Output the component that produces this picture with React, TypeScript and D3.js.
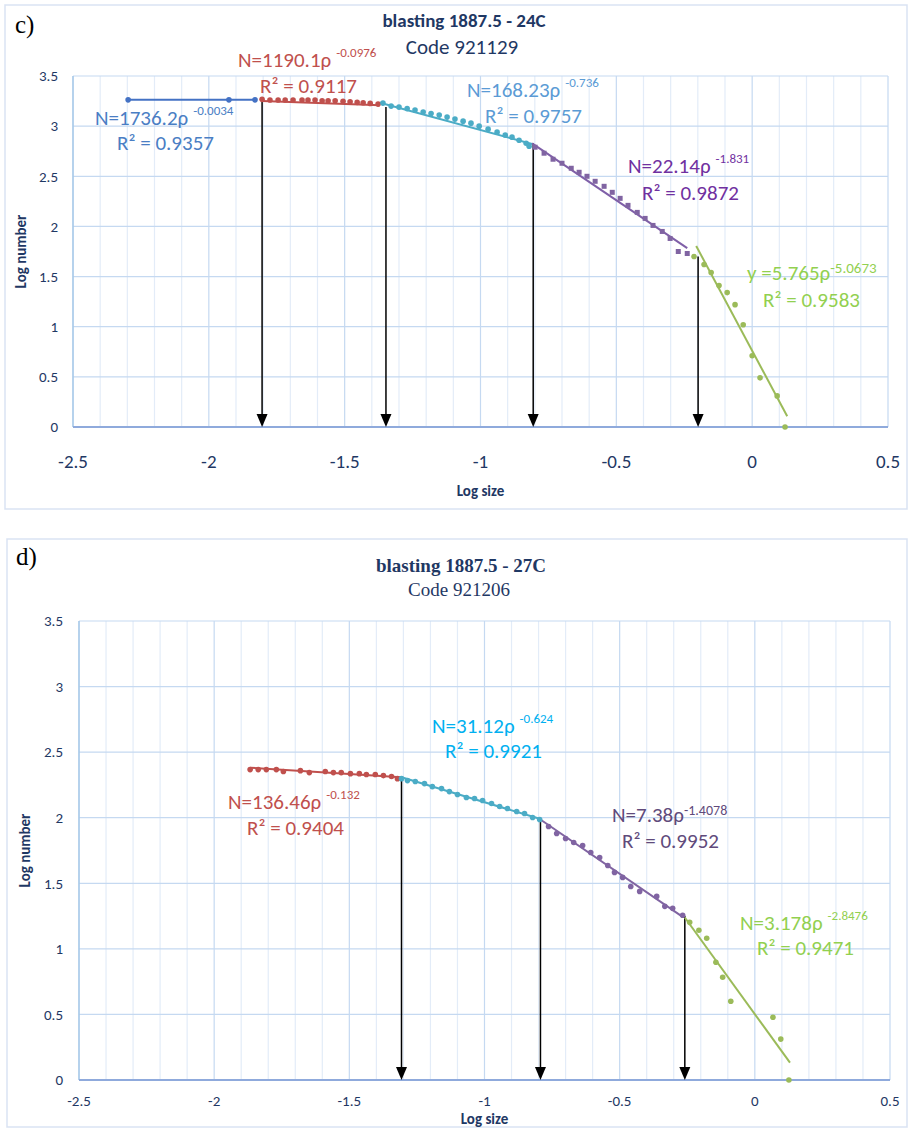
import React from "react";
import * as d3 from "d3";

// ---- shared axis ticks
const xTicks = [-2.5, -2, -1.5, -1, -0.5, 0, 0.5];
const yTicks = [0, 0.5, 1, 1.5, 2, 2.5, 3, 3.5];

// ---- chart c) blasting 1887.5 - 24C, points [log size, log number]
const cBlue = [[-2.297, 3.262], [-1.926, 3.262], [-1.83, 3.262]];
const cRed = [
  [-1.804, 3.267], [-1.775, 3.26], [-1.745, 3.26], [-1.719, 3.26], [-1.69, 3.26], [-1.657, 3.26],
  [-1.635, 3.26], [-1.609, 3.26], [-1.583, 3.253], [-1.561, 3.253], [-1.535, 3.253], [-1.506, 3.247],
  [-1.48, 3.243], [-1.454, 3.237], [-1.432, 3.233], [-1.406, 3.227], [-1.377, 3.22],
];
const cCyan = [
  [-1.359, 3.23], [-1.329, 3.2], [-1.3, 3.19], [-1.27, 3.175], [-1.241, 3.16], [-1.211, 3.14],
  [-1.182, 3.125], [-1.152, 3.11], [-1.123, 3.09], [-1.094, 3.07], [-1.064, 3.05], [-1.035, 3.03],
  [-1.005, 3.0], [-0.972, 2.97], [-0.939, 2.94], [-0.909, 2.91], [-0.884, 2.89], [-0.858, 2.86],
  [-0.832, 2.83], [-0.821, 2.8],
];
const cPurple = [
  [-0.799, 2.79], [-0.766, 2.73], [-0.733, 2.67], [-0.7, 2.63], [-0.666, 2.58], [-0.637, 2.54],
  [-0.608, 2.5], [-0.578, 2.45], [-0.545, 2.4], [-0.515, 2.34], [-0.486, 2.28], [-0.457, 2.21],
  [-0.423, 2.14], [-0.394, 2.08], [-0.365, 2.01], [-0.331, 1.95], [-0.302, 1.88], [-0.272, 1.75],
  [-0.239, 1.73],
];
const cGreen = [
  [-0.214, 1.7], [-0.177, 1.62], [-0.151, 1.54], [-0.122, 1.41], [-0.092, 1.34], [-0.063, 1.22],
  [-0.033, 1.02], [0.0, 0.71], [0.029, 0.49], [0.092, 0.31], [0.121, 0.0],
];
// fitted lines, [start, end]
const cRedFit = [[-1.804, 3.251], [-1.37, 3.209]];
const cCyanFit = [[-1.37, 3.234], [-0.81, 2.822]];
const cPurpleFit = [[-0.81, 2.828], [-0.239, 1.783]];
const cGreenFit = [[-0.206, 1.805], [0.129, 0.107]];
const cArrows = [[-1.804, 3.26], [-1.348, 3.19], [-0.806, 2.83], [-0.199, 1.7]];

// ---- chart d) blasting 1887.5 - 27C
const dRed = [
  [-1.867, 2.367], [-1.837, 2.367], [-1.807, 2.367], [-1.77, 2.367], [-1.744, 2.352], [-1.681, 2.359],
  [-1.648, 2.344], [-1.589, 2.352], [-1.559, 2.344], [-1.53, 2.344], [-1.496, 2.336], [-1.463, 2.336],
  [-1.437, 2.329], [-1.404, 2.329], [-1.374, 2.321], [-1.344, 2.314], [-1.322, 2.298],
];
const dCyan = [
  [-1.307, 2.298], [-1.285, 2.283], [-1.256, 2.276], [-1.222, 2.26], [-1.193, 2.237], [-1.159, 2.222],
  [-1.13, 2.199], [-1.1, 2.177], [-1.067, 2.154], [-1.037, 2.146], [-1.007, 2.131], [-0.974, 2.108],
  [-0.944, 2.085], [-0.915, 2.07], [-0.881, 2.047], [-0.852, 2.032], [-0.822, 2.002], [-0.796, 1.986],
];
const dPurple = [
  [-0.763, 1.933], [-0.733, 1.88], [-0.7, 1.842], [-0.67, 1.811], [-0.637, 1.788], [-0.607, 1.735],
  [-0.574, 1.697], [-0.544, 1.636], [-0.519, 1.583], [-0.489, 1.545], [-0.459, 1.476], [-0.426, 1.438],
  [-0.363, 1.4], [-0.333, 1.324], [-0.304, 1.309], [-0.267, 1.256],
];
const dGreen = [
  [-0.241, 1.202], [-0.207, 1.142], [-0.178, 1.081], [-0.144, 0.898], [-0.119, 0.784], [-0.089, 0.601],
  [0.067, 0.479], [0.096, 0.312], [0.126, 0.0],
];
const dRedFit = [[-1.867, 2.381], [-1.31, 2.308]];
const dCyanFit = [[-1.31, 2.31], [-0.796, 1.992]];
const dPurpleFit = [[-0.796, 1.99], [-0.267, 1.244]];
const dGreenFit = [[-0.259, 1.239], [0.13, 0.132]];
const dArrows = [[-1.307, 2.3], [-0.793, 1.99], [-0.259, 1.25]];

const NAVY = "#1F3864";
const SANS = "Carlito, Lato, 'Open Sans', sans-serif";
const SERIF = "'Liberation Serif', 'DejaVu Serif', serif";

function Label({ x, y, main, sup, r2, r2x, r2y, color, size = 21, supSize = 13, supDy = -10, gap = 5 }) {
  return (
    <g fill={color} fontFamily={SANS}>
      <text x={x} y={y} fontSize={size}>
        {main}
        <tspan fontSize={supSize} dx={gap} dy={supDy}>{sup}</tspan>
      </text>
      <text x={r2x} y={r2y} fontSize={size}>{r2}</text>
    </g>
  );
}

function Plot({ xr, yr, frame, xTickSize, yTickSize, xTickY, xTitleY, yTickRight, yTitleX, series, fits, arrows }) {
  const x = d3.scaleLinear().domain([-2.5, 0.5]).range(xr);
  const y = d3.scaleLinear().domain([0, 3.5]).range(yr);
  const minor = d3.range(-25, 6).map((i) => i / 10);
  const ln = d3.line().x((d) => x(d[0])).y((d) => y(d[1]));
  return (
    <g>
      <rect x={frame[0]} y={frame[1]} width={frame[2] - frame[0]} height={frame[3] - frame[1]}
        fill="#fff" stroke="#DAE3F3" strokeWidth={1.5} />
      {minor.map((v) => (
        <line key={"m" + v} x1={x(v)} x2={x(v)} y1={y(0)} y2={y(3.5)}
          stroke={Math.abs(v * 2 - Math.round(v * 2)) < 1e-6 ? "#C5D9F1" : "#E3ECF8"} strokeWidth={1.2} />
      ))}
      {yTicks.map((v) => (
        <line key={"h" + v} x1={x(-2.5)} x2={x(0.5)} y1={y(v)} y2={y(v)} stroke="#C5D9F1" strokeWidth={1.2} />
      ))}
      <line x1={x(-2.5)} x2={x(-2.5)} y1={y(0)} y2={y(3.5)} stroke="#9DC3E6" strokeWidth={1.2} />
      <line x1={x(-2.5)} x2={x(0.5)} y1={y(0)} y2={y(0)} stroke="#8FAADC" strokeWidth={2} />
      {yTicks.map((v) => (
        <text key={"yt" + v} x={yTickRight} y={y(v)} dy="0.35em" textAnchor="end" fontSize={yTickSize}
          fontFamily={SANS} fill={NAVY}>{v}</text>
      ))}
      {xTicks.map((v) => (
        <text key={"xt" + v} x={x(v)} y={xTickY} textAnchor="middle" fontSize={xTickSize}
          fontFamily={SANS} fill={NAVY}>{v}</text>
      ))}
      <text x={x(-1)} y={xTitleY} textAnchor="middle" fontSize={15} fontWeight="bold" fontFamily={SANS}
        fill={NAVY}>Log size</text>
      <text transform={`translate(${yTitleX},${(yr[0] + yr[1]) / 2}) rotate(-90)`} textAnchor="middle"
        fontSize={15} fontWeight="bold" fontFamily={SANS} fill={NAVY}>Log number</text>

      {arrows.map((a, i) => (
        <g key={"a" + i}>
          <line x1={x(a[0])} x2={x(a[0])} y1={y(a[1])} y2={y(0) - 12} stroke="#000" strokeWidth={1.5} />
          <path d={`M${x(a[0]) - 5.5},${y(0) - 13}L${x(a[0]) + 5.5},${y(0) - 13}L${x(a[0])},${y(0)}Z`} fill="#000" />
        </g>
      ))}
      {fits.map((f, i) => (
        <path key={"f" + i} d={ln(f.data)} fill="none" stroke={f.color} strokeWidth={2} />
      ))}
      {series.map((s, i) => (
        <g key={"s" + i} fill={s.color}>
          {s.line && <path d={ln(s.data)} fill="none" stroke={s.color} strokeWidth={2} />}
          {s.data.map((p, j) =>
            s.square ? (
              <rect key={j} x={x(p[0]) - 2.5} y={y(p[1]) - 2.5} width={5} height={5} />
            ) : (
              <circle key={j} cx={x(p[0])} cy={y(p[1])} r={2.8} />
            )
          )}
        </g>
      ))}
    </g>
  );
}

export default function App() {
  return (
    <div style={{ position: "absolute", left: 0, top: 0 }}>
      <svg width={912} height={1128} style={{ display: "block" }}>
        <rect width={912} height={1128} fill="#fff" />
        {/* ---------- c) ---------- */}
        <Plot xr={[73, 888]} yr={[427, 76]} frame={[5, 5, 907, 509]} xTickSize={19} yTickSize={15} xTickY={468}
          xTitleY={496} yTickRight={58} yTitleX={26}
          series={[
            { data: cBlue, color: "#4472C4", line: true },
            { data: cRed, color: "#C0504D" },
            { data: cCyan, color: "#4BACC6" },
            { data: cPurple, color: "#8064A2", square: true },
            { data: cGreen, color: "#9BBB59" },
          ]}
          fits={[
            { data: cRedFit, color: "#C0504D" },
            { data: cCyanFit, color: "#4BACC6" },
            { data: cPurpleFit, color: "#7F5FA8" },
            { data: cGreenFit, color: "#9BBB59" },
          ]}
          arrows={cArrows}
        />
        <text x={15} y={33} fontSize={25} fontFamily={SERIF} fill="#000">c)</text>
        <text x={464} y={27} textAnchor="middle" fontSize={19} fontWeight="bold" fontFamily={SANS} fill={NAVY}>
          blasting 1887.5 - 24C
        </text>
        <text x={462} y={54} textAnchor="middle" fontSize={21} fontFamily={SANS} fill={NAVY}>Code 921129</text>
        <Label x={95} y={125} main="N=1736.2ρ" sup="-0.0034" r2="R² = 0.9357" r2x={117} r2y={150} color="#4A7EC4" />
        <Label x={238} y={67} main="N=1190.1ρ" sup="-0.0976" r2="R² = 0.9117" r2x={260} r2y={93} color="#C0504D" />
        <Label x={467} y={97} main="N=168.23ρ" sup="-0.736" r2="R² = 0.9757" r2x={485} r2y={123} color="#5B9BD5" />
        <Label x={628} y={173} main="N=22.14ρ" sup="-1.831" r2="R² = 0.9872" r2x={642} r2y={200} color="#7030A0" />
        <Label x={747} y={280} main="y =5.765ρ" sup="-5.0673" r2="R² = 0.9583" r2x={763} r2y={307} color="#92D050"
          supSize={15} supDy={-7} gap={0} />

        {/* ---------- d) ---------- */}
        <Plot xr={[79, 890]} yr={[1080, 621]} frame={[7, 539, 907, 1127]} xTickSize={15} yTickSize={15} xTickY={1106}
          xTitleY={1124} yTickRight={63} yTitleX={30}
          series={[
            { data: dRed, color: "#C0504D" },
            { data: dCyan, color: "#4BACC6" },
            { data: dPurple, color: "#8064A2" },
            { data: dGreen, color: "#9BBB59" },
          ]}
          fits={[
            { data: dRedFit, color: "#C0504D" },
            { data: dCyanFit, color: "#4BACC6" },
            { data: dPurpleFit, color: "#8064A2" },
            { data: dGreenFit, color: "#9BBB59" },
          ]}
          arrows={dArrows}
        />
        <text x={16} y={565} fontSize={25} fontFamily={SERIF} fill="#000">d)</text>
        <text x={461} y={572} textAnchor="middle" fontSize={19} fontWeight="bold" fontFamily={SERIF} fill={NAVY}>
          blasting 1887.5 - 27C
        </text>
        <text x={459} y={596} textAnchor="middle" fontSize={19} fontFamily={SERIF} fill={NAVY}>Code 921206</text>
        <Label x={228} y={809} main="N=136.46ρ" sup="-0.132" r2="R² = 0.9404" r2x={247} r2y={835} color="#C0504D" />
        <Label x={432} y={733} main="N=31.12ρ" sup="-0.624" r2="R² = 0.9921" r2x={445} r2y={758} color="#00B0F0" />
        <Label x={612} y={822} main="N=7.38ρ" sup="-1.4078" r2="R² = 0.9952" r2x={622} r2y={848} color="#604A7B"
          supSize={14} supDy={-7} gap={0} />
        <Label x={740} y={930} main="N=3.178ρ" sup="-2.8476" r2="R² = 0.9471" r2x={757} r2y={955} color="#92D050" />
      </svg>
    </div>
  );
}
